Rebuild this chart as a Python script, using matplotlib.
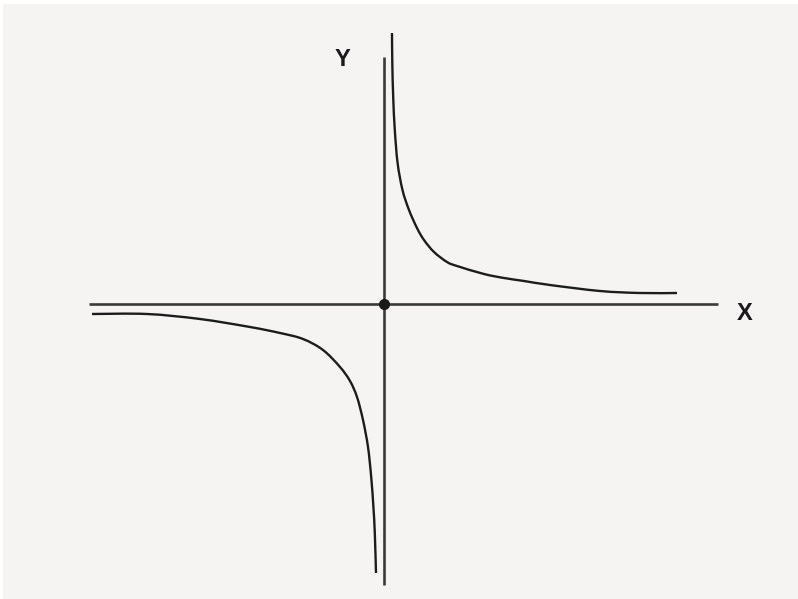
import numpy as np
import matplotlib
matplotlib.use("Agg")
import matplotlib.pyplot as plt
from matplotlib.path import Path
from matplotlib.patches import PathPatch

# Hand-drawn hyperbola branches (data units, origin at axes crossing)
upper_x = [8, 8.3, 9.2, 10.8, 13.6, 18.5, 25, 33, 40, 50, 63, 73, 100, 120, 140, 166, 216, 256, 293]
upper_y = [271, 241, 207, 174, 141, 114, 94, 76, 64, 52, 42, 38, 30, 26, 23, 19, 13, 11, 11]
lower_x = [-292, -237, -184, -134, -104, -81, -61, -44, -34, -27, -21, -16, -12.8, -10.6, -9.2, -8]
lower_y = [-10, -10, -15, -23, -29, -35, -46, -63, -77, -93, -116, -143, -173, -203, -229, -269]

x_axis = [-295, 334]
y_axis = [-281, 247]

BG = "#f5f4f2"

fig = plt.figure(figsize=(7.98, 5.99), dpi=100, facecolor="white")
ax = fig.add_axes([3 / 798, 0, 795 / 798, 595 / 599])
ax.set_facecolor(BG)
ax.set_xlim(-381, 414)
ax.set_ylim(-295, 300)
ax.axis("off")
ax.add_patch(plt.Rectangle((0, 0), 1, 1, transform=ax.transAxes, facecolor=BG,
                           edgecolor="none", zorder=0))


def smooth_path(xs, ys):
    pts = np.column_stack([xs, ys]).astype(float)
    verts = [pts[0]]
    codes = [Path.MOVETO]
    n = len(pts)
    for i in range(n - 1):
        p0 = pts[i - 1] if i > 0 else pts[i]
        p1 = pts[i]
        p2 = pts[i + 1]
        p3 = pts[i + 2] if i + 2 < n else pts[i + 1]
        c1 = p1 + (p2 - p0) / 6.0
        c2 = p2 - (p3 - p1) / 6.0
        verts += [c1, c2, p2]
        codes += [Path.CURVE4] * 3
    return Path(verts, codes)


axis_color = "#3a3a3a"
ax.plot(x_axis, [0, 0], color=axis_color, lw=1.9, solid_capstyle="butt", zorder=2)
ax.plot([0, 0], y_axis, color=axis_color, lw=1.9, solid_capstyle="butt", zorder=2)
ax.plot([0], [0], "o", color="#1a1a1a", markersize=7, zorder=4)

for xs, ys in [(upper_x, upper_y), (lower_x, lower_y)]:
    ax.add_patch(PathPatch(smooth_path(xs, ys), facecolor="none",
                           edgecolor="#1c1c1c", lw=1.7, capstyle="butt", zorder=3))

ax.text(-42, 245, "Y", fontsize=17, fontweight="bold", family="Liberation Sans",
        color="#1a1a1a", ha="center", va="center")
ax.text(361, -9, "X", fontsize=17, fontweight="bold", family="Liberation Sans",
        color="#1a1a1a", ha="center", va="center")

fig.savefig("out.png", dpi=100, facecolor="white")
